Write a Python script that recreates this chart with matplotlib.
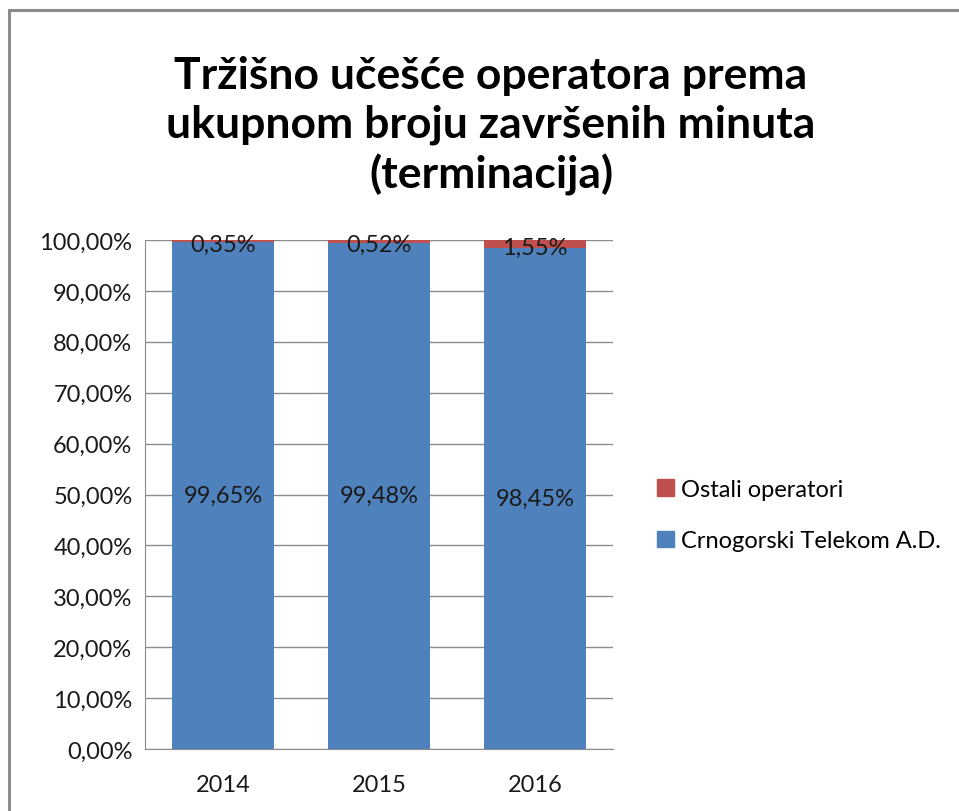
import matplotlib
matplotlib.use("Agg")
import matplotlib.pyplot as plt
from matplotlib.patches import Rectangle, Patch
from matplotlib.ticker import FuncFormatter
import numpy as np

years = ["2014", "2015", "2016"]
telekom = [99.65, 99.48, 98.45]
ostali = [0.35, 0.52, 1.55]
series_names = ["Crnogorski Telekom A.D.", "Ostali operatori"]
title = "Tržišno učešće operatora prema\nukupnom broju završenih minuta\n(terminacija)"

BLUE = "#4f81bd"
RED = "#c0504d"

plt.rcParams["font.family"] = ["Lato", "DejaVu Sans"]

fig = plt.figure(figsize=(9.59, 8.12), dpi=100, facecolor="white")
# outer chart frame (right/bottom run off the picture)
fig.patches.append(Rectangle((9 / 959, -0.05), 1.2, 1.05 - 11 / 812,
                             transform=fig.transFigure, fill=False,
                             edgecolor="#8c8c8c", linewidth=2.2))

ax = fig.add_axes([145 / 959, 1 - 750 / 812, 468 / 959, 509 / 812])
x = np.arange(len(years))
w = 0.65
ax.bar(x, telekom, w, color=BLUE, zorder=3)
ax.bar(x, ostali, w, bottom=telekom, color=RED, zorder=3)

fmt = lambda v: f"{v:.2f}%".replace(".", ",")
for xi, v in zip(x, telekom):
    ax.text(xi, v / 2, fmt(v), ha="center", va="center", fontsize=17, color="#1a1a1a", zorder=4)
for xi, b, v in zip(x, telekom, ostali):
    ax.text(xi, b + v / 2 - 0.6, fmt(v), ha="center", va="center", fontsize=17, color="#1a1a1a", zorder=4)

ax.set_xlim(-0.5, len(years) - 0.5)
ax.set_ylim(0, 100)
ax.set_yticks(np.arange(0, 101, 10))
ax.yaxis.set_major_formatter(FuncFormatter(lambda v, p: fmt(v)))
ax.set_xticks(x)
ax.set_xticklabels(years)
ax.tick_params(axis="both", labelsize=17, colors="#1a1a1a", length=0, pad=9)
ax.tick_params(axis="x", pad=18)
ax.grid(axis="y", color="#8c8c8c", linewidth=1, zorder=0)
for s in ["top", "right"]:
    ax.spines[s].set_visible(False)
ax.spines["left"].set_color("#8c8c8c")
ax.spines["bottom"].set_color("#8c8c8c")

fig.text(491 / 959, 1 - 126 / 812, title, ha="center", va="center",
         fontsize=32, fontweight="bold", linespacing=1.27)

handles = [Patch(color=RED), Patch(color=BLUE)]
fig.legend(handles, [series_names[1], series_names[0]], loc="center left",
           bbox_to_anchor=(636 / 959, 1 - 516 / 812), frameon=False,
           fontsize=17, handlelength=0.7, handleheight=0.7, handletextpad=0.3,
           labelspacing=1.3)

fig.savefig("out.png", dpi=100, facecolor="white")
